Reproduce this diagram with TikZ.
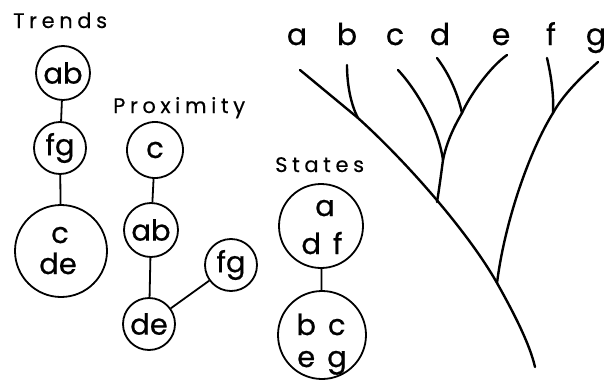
\documentclass[tikz,border=0pt]{standalone}
\usepackage{fontspec}
\setmainfont{Poppins}[FakeBold=0.6]
\newfontfamily\headfont{Poppins}[LetterSpace=22,FakeBold=0.4]
\newcommand{\gap}{\hspace{12pt}}
\begin{document}
\begin{tikzpicture}[x=1pt,y=-1pt,
  bubble/.style={draw,circle,line width=1.8pt,inner sep=0pt,
    font=\fontsize{29}{29}\selectfont},
  inner/.style={anchor=base,inner sep=0pt,font=\fontsize{29}{29}\selectfont},
  link/.style={line width=1.8pt},
  branch/.style={line width=2.4pt,line cap=round},
  heading/.style={anchor=base west,inner sep=0pt,font=\headfont\fontsize{21}{21}\selectfont},
  leaf/.style={anchor=base,inner sep=0pt,font=\fontsize{30}{30}\selectfont}]
\useasboundingbox (0,0) rectangle (613,380);

% Trends
\node[heading] (hT) at (13,28) {Trends};
\node[bubble,minimum size=54pt] (tab) at (63,73) {ab};
\node[bubble,minimum size=52pt] (tfg) at (60,148) {fg};
\node[bubble,minimum size=92pt] (tcde) at (61,251) {};
\node[inner] (tcde1) at (60,243) {c};
\node[inner] (tcde2) at (58,274) {de};
\draw[link] (tab) -- (tfg);
\draw[link] (tfg) -- (tcde);

% Proximity
\node[heading] (hP) at (113,113) {Proximity};
\node[bubble,minimum size=56pt] (pc) at (155,150) {c};
\node[bubble,minimum size=54pt] (pab) at (151,230) {ab};
\node[bubble,minimum size=52pt] (pde) at (149,324) {de};
\node[bubble,minimum size=52pt] (pfg) at (231,265) {fg};
\draw[link] (pc) -- (pab);
\draw[link] (pab) -- (pde);
\draw[link] (pde) -- (pfg);

% States
\node[heading] (hS) at (275,172) {States};
\node[bubble,minimum size=84pt] (sadf) at (321,226) {};
\node[inner] (sadf1) at (325,216) {a};
\node[inner] (sadf2) at (322,254) {d\gap f};
\node[bubble,minimum size=88pt] (sbceg) at (322,335) {};
\node[inner] (sbceg1) at (321,335) {b\gap c};
\node[inner] (sbceg2) at (322,367) {e\gap g};
\draw[link] (sadf) -- (sbceg);

% Tree labels
\foreach \n/\x in {a/297,b/347,c/395,d/440,e/501,f/551,g/596}
  \node[leaf] (l\n) at (\x,45) {\n};

% Tree tips and junctions
\coordinate (ta) at (300,70);
\coordinate (tb) at (347,65);
\coordinate (tc) at (398,70);
\coordinate (td) at (437,58);
\coordinate (te) at (507,55);
\coordinate (tf) at (547,58);
\coordinate (tg) at (598,62);
\coordinate (jab) at (358,118);
\coordinate (jde) at (462,113);
\coordinate (jcde) at (443,160);
\coordinate (jcdet) at (437,202);
\coordinate (jfg) at (553,113);
\coordinate (jfgt) at (497,283);
\coordinate (root) at (535,367);

% Tree
\draw[branch] (ta) -- (jab) .. controls (410,165) and (470,235) .. (jfgt)
  .. controls (515,315) and (530,345) .. (root);
\draw[branch] (tb) .. controls (347,85) and (351,105) .. (jab);
\draw[branch] (tc) .. controls (415,88) and (438,125) .. (jcde);
\draw[branch] (td) .. controls (450,75) and (458,95) .. (jde);
\draw[branch] (te) .. controls (490,67) and (470,95) .. (jde);
\draw[branch] (jde) .. controls (452,130) and (446,145) .. (jcde);
\draw[branch] (jcde) .. controls (441,175) and (439,190) .. (jcdet);
\draw[branch] (tf) .. controls (551,75) and (554,95) .. (jfg);
\draw[branch] (tg) .. controls (580,78) and (563,95) .. (jfg);
\draw[branch] (jfg) .. controls (530,150) and (505,220) .. (jfgt);
\end{tikzpicture}
\end{document}
